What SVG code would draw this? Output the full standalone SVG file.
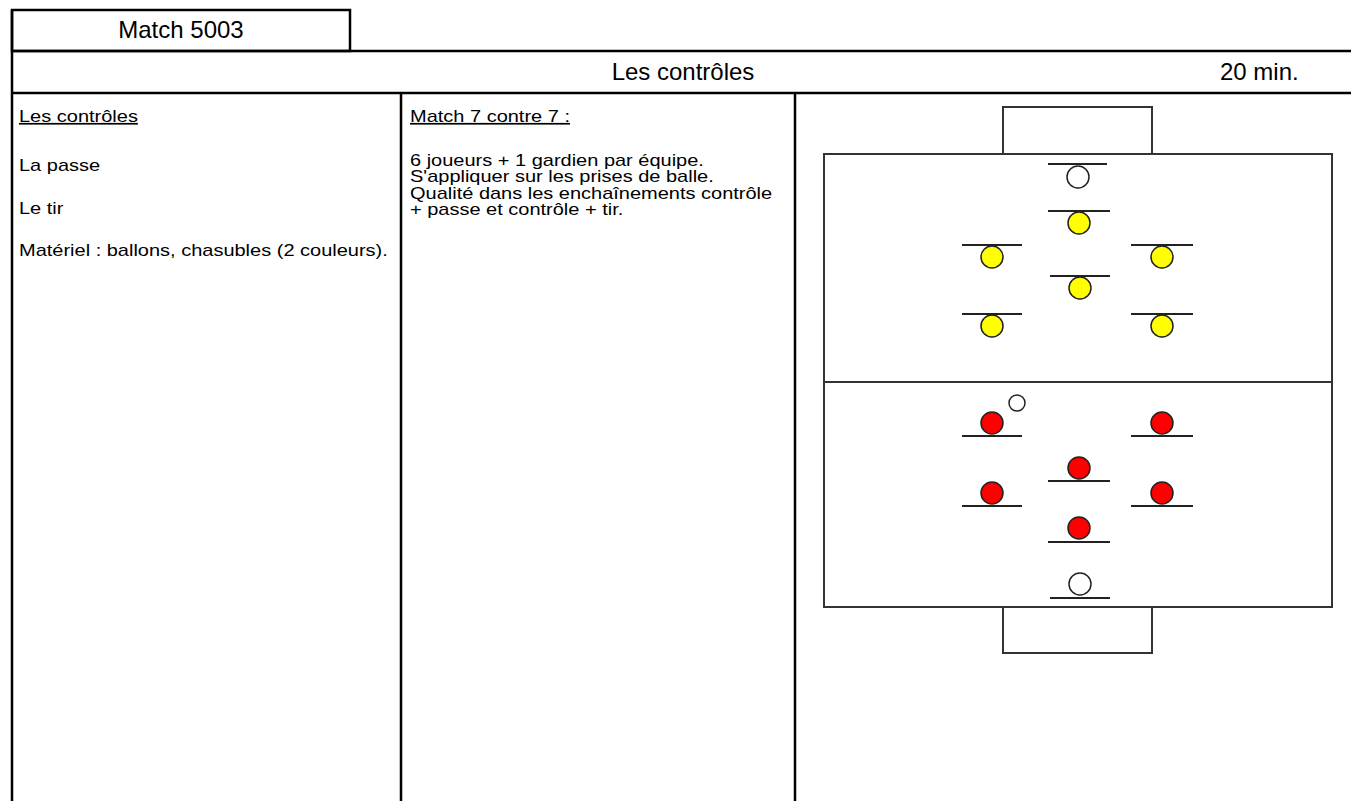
<svg xmlns="http://www.w3.org/2000/svg" width="1351" height="801" viewBox="0 0 1351 801">
<style>
text{font-family:"Liberation Sans",Arial,sans-serif;fill:#000}
.t{font-size:24px}
.b{font-size:17px}
.u{text-decoration:underline}
.grid{stroke:#000;stroke-width:2.5;fill:none}
.field{stroke:#333;stroke-width:2;fill:none}
.bar{stroke:#222;stroke-width:2}
.y{fill:#ffff00;stroke:#222;stroke-width:1.5}
.r{fill:#ff0000;stroke:#222;stroke-width:1.5}
.w{fill:#fff;stroke:#222;stroke-width:1.5}
</style>
<rect width="1351" height="801" fill="#fff"/>
<g id="table">
<rect class="grid" x="12" y="10" width="338" height="41"/>
<line class="grid" x1="12" y1="51" x2="1351" y2="51"/>
<line class="grid" x1="12" y1="93" x2="1351" y2="93"/>
<line class="grid" x1="12" y1="10" x2="12" y2="801"/>
<line class="grid" x1="401" y1="93" x2="401" y2="801"/>
<line class="grid" x1="795" y1="93" x2="795" y2="801"/>
</g>
<g id="header">
<text class="t" x="181" y="38" text-anchor="middle">Match 5003</text>
<text class="t" x="683" y="80" text-anchor="middle">Les contrôles</text>
<text class="t" x="1220" y="80">20 min.</text>
</g>
<g id="col1" transform="translate(19,0) scale(1.1765,1)">
<text class="b u" x="0" y="122">Les contrôles</text>
<text class="b" x="0" y="171">La passe</text>
<text class="b" x="0" y="214">Le tir</text>
<text class="b" x="0" y="256">Matériel : ballons, chasubles (2 couleurs).</text>
</g>
<g id="col2" transform="translate(410,0) scale(1.1765,1)">
<text class="b u" x="0" y="122">Match 7 contre 7 :</text>
<text class="b" x="0" y="166">6 joueurs + 1 gardien par équipe.</text>
<text class="b" x="0" y="182.5">S'appliquer sur les prises de balle.</text>
<text class="b" x="0" y="199">Qualité dans les enchaînements contrôle</text>
<text class="b" x="0" y="215.5">+ passe et contrôle + tir.</text>
</g>
<g id="pitch">
<rect class="field" x="824" y="154" width="508" height="453"/>
<line class="field" x1="824" y1="382" x2="1332" y2="382"/>
<rect class="field" x="1003" y="107" width="149" height="47"/>
<rect class="field" x="1003" y="607" width="149" height="46"/>
</g>
<g id="team-yellow">
<line class="bar" x1="1048" y1="164" x2="1107" y2="164"/><circle class="w" cx="1078" cy="177" r="11"/>
<line class="bar" x1="1048" y1="211" x2="1110" y2="211"/><circle class="y" cx="1079" cy="223" r="11"/>
<line class="bar" x1="962" y1="245" x2="1022" y2="245"/><circle class="y" cx="992" cy="257" r="11"/>
<line class="bar" x1="1131" y1="245" x2="1193" y2="245"/><circle class="y" cx="1162" cy="257" r="11"/>
<line class="bar" x1="1050" y1="276" x2="1110" y2="276"/><circle class="y" cx="1080" cy="288" r="11"/>
<line class="bar" x1="962" y1="314" x2="1022" y2="314"/><circle class="y" cx="992" cy="326" r="11"/>
<line class="bar" x1="1131" y1="314" x2="1193" y2="314"/><circle class="y" cx="1162" cy="326" r="11"/>
</g>
<g id="team-red">
<circle class="r" cx="992" cy="423" r="11"/><line class="bar" x1="962" y1="436" x2="1022" y2="436"/>
<circle class="w" cx="1017" cy="403" r="8"/>
<circle class="r" cx="1162" cy="423" r="11"/><line class="bar" x1="1131" y1="436" x2="1193" y2="436"/>
<circle class="r" cx="1079" cy="468" r="11"/><line class="bar" x1="1048" y1="481" x2="1110" y2="481"/>
<circle class="r" cx="992" cy="493" r="11"/><line class="bar" x1="962" y1="506" x2="1022" y2="506"/>
<circle class="r" cx="1162" cy="493" r="11"/><line class="bar" x1="1131" y1="506" x2="1193" y2="506"/>
<circle class="r" cx="1079" cy="528" r="11"/><line class="bar" x1="1048" y1="542" x2="1110" y2="542"/>
<circle class="w" cx="1080" cy="584" r="11"/><line class="bar" x1="1050" y1="598" x2="1110" y2="598"/>
</g>
</svg>
